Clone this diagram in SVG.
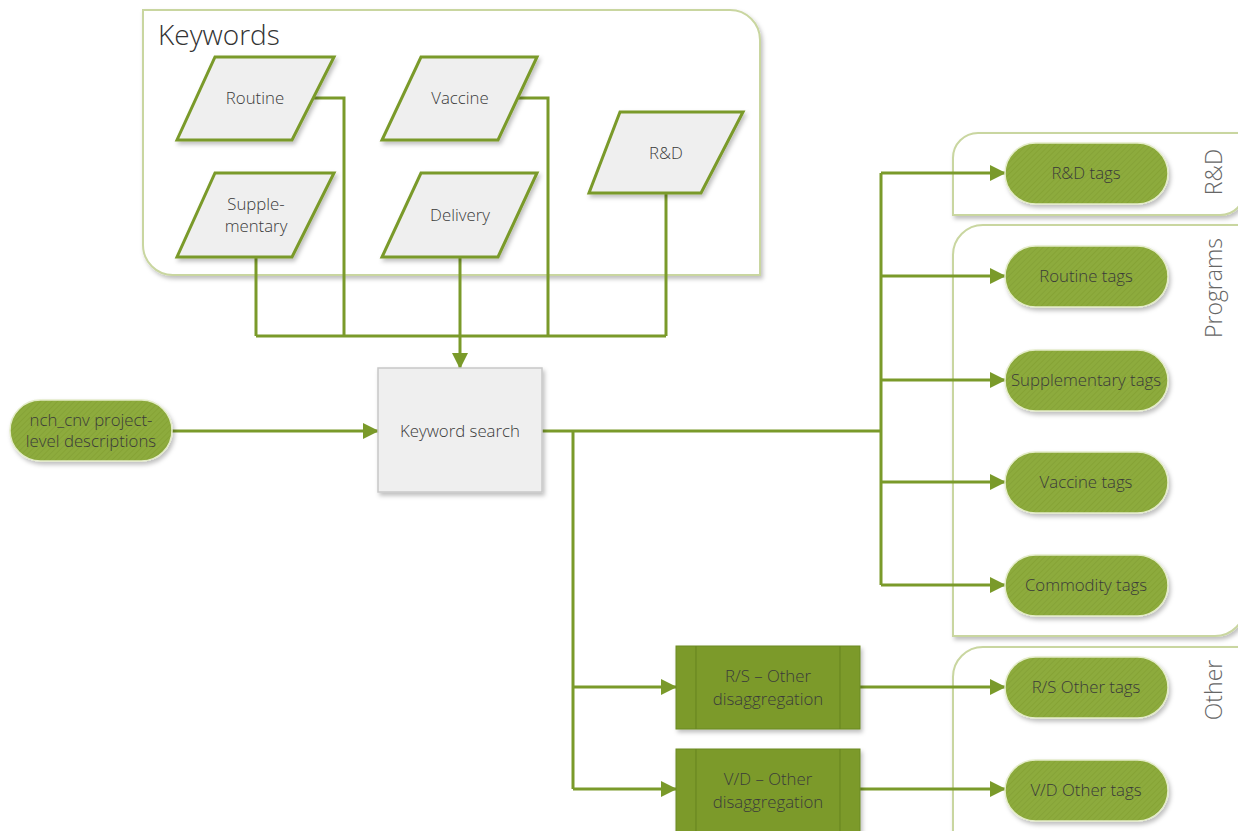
<svg xmlns="http://www.w3.org/2000/svg" width="1238" height="831" viewBox="0 0 1238 831">
<style>
text{font-family:"Open Sans","Liberation Sans",sans-serif;font-weight:300;fill:#3a3a3a;text-anchor:middle;}
.cont{fill:#fff;stroke:#c9d6a0;stroke-width:2;}
.para{fill:#efefef;stroke:#7a9a2a;stroke-width:3;}
.pill{fill:url(#hatch);stroke:#e4ecc9;stroke-width:1.5;}
.proc{fill:#7b9a2b;stroke:#6c8a22;stroke-width:1;}
.inner{stroke:#6a8820;stroke-width:1.2;}
.ln{fill:none;stroke:#7a9a2a;stroke-width:3;}
.lbl{font-size:16.8px;}
.side{font-size:23px;fill:#666;}
</style>
<defs>
<marker id="arr" markerUnits="userSpaceOnUse" markerWidth="16" markerHeight="16" refX="15" refY="8" orient="auto">
<path d="M0,0 L16,8 L0,16 z" fill="#7a9a2a"/>
</marker>
<pattern id="hatch" patternUnits="userSpaceOnUse" width="4" height="4" patternTransform="rotate(45)">
<rect width="4" height="4" fill="#8dab3d"/>
<rect width="1" height="4" fill="#86a336"/>
</pattern>
<filter id="sh" x="-10%" y="-10%" width="130%" height="140%">
<feDropShadow dx="2" dy="3" stdDeviation="2" flood-color="#000" flood-opacity="0.25"/>
</filter>
</defs>

<g id="keywords-container">
<path class="cont" d="M143,10 H730 A30,30 0 0 1 760,40 V275 H173 A30,30 0 0 1 143,245 Z" filter="url(#sh)"/>
<text x="158" y="45" style="font-size:28px;text-anchor:start;fill:#333">Keywords</text>
</g>
<g id="rd-container">
<path class="cont" d="M978,133 H1245 V190 A25,25 0 0 1 1220,215 H953 V158 A25,25 0 0 1 978,133 Z" filter="url(#sh)"/>
<text class="side" transform="translate(1222,172) rotate(-90)">R&amp;D</text>
</g>
<g id="programs-container">
<path class="cont" d="M983,225 H1245 V606 A30,30 0 0 1 1215,636 H953 V255 A30,30 0 0 1 983,225 Z" filter="url(#sh)"/>
<text class="side" transform="translate(1222,288) rotate(-90)">Programs</text>
</g>
<g id="other-container">
<path class="cont" d="M983,647 H1245 V845 H953 V677 A30,30 0 0 1 983,647 Z" filter="url(#sh)"/>
<text class="side" transform="translate(1222,690) rotate(-90)">Other</text>
</g>

<g id="connectors">
<polyline class="ln" points="313,98 344,98 344,336"/>
<polyline class="ln" points="518,98 548,98 548,336"/>
<line class="ln" x1="256" y1="257" x2="256" y2="336"/>
<line class="ln" x1="666" y1="193" x2="666" y2="336"/>
<line class="ln" x1="256" y1="336" x2="666" y2="336"/>
<line class="ln" x1="460" y1="257" x2="460" y2="368" marker-end="url(#arr)"/>
<line class="ln" x1="172" y1="431" x2="378" y2="431" marker-end="url(#arr)"/>
<line class="ln" x1="542" y1="431" x2="881" y2="431"/>
<line class="ln" x1="881" y1="173" x2="881" y2="585"/>
<line class="ln" x1="881" y1="173" x2="1005" y2="173" marker-end="url(#arr)"/>
<line class="ln" x1="881" y1="276" x2="1005" y2="276" marker-end="url(#arr)"/>
<line class="ln" x1="881" y1="380" x2="1005" y2="380" marker-end="url(#arr)"/>
<line class="ln" x1="881" y1="482" x2="1005" y2="482" marker-end="url(#arr)"/>
<line class="ln" x1="881" y1="585" x2="1005" y2="585" marker-end="url(#arr)"/>
<line class="ln" x1="573" y1="431" x2="573" y2="789"/>
<line class="ln" x1="573" y1="687" x2="676" y2="687" marker-end="url(#arr)"/>
<line class="ln" x1="573" y1="789" x2="676" y2="789" marker-end="url(#arr)"/>
<line class="ln" x1="860" y1="687" x2="1005" y2="687" marker-end="url(#arr)"/>
<line class="ln" x1="860" y1="789" x2="1005" y2="789" marker-end="url(#arr)"/>
</g>

<g id="kw-routine">
<polygon class="para" points="215,57 334,57 292,140 177,140" filter="url(#sh)"/>
<text class="lbl" x="255" y="104">Routine</text>
</g>
<g id="kw-supplementary">
<polygon class="para" points="215,173 334,173 292,257 177,257" filter="url(#sh)"/>
<text class="lbl" x="256" y="210">Supple-</text>
<text class="lbl" x="256" y="232">mentary</text>
</g>
<g id="kw-vaccine">
<polygon class="para" points="421,57 537,57 498,140 382,140" filter="url(#sh)"/>
<text class="lbl" x="460" y="104">Vaccine</text>
</g>
<g id="kw-delivery">
<polygon class="para" points="421,173 537,173 498,257 382,257" filter="url(#sh)"/>
<text class="lbl" x="460" y="221">Delivery</text>
</g>
<g id="kw-rd">
<polygon class="para" points="620,112 743,112 701,193 589,193" filter="url(#sh)"/>
<text class="lbl" x="666" y="159">R&amp;D</text>
</g>

<g id="source">
<rect class="pill" x="10" y="400" width="162" height="61" rx="30.5" filter="url(#sh)"/>
<text class="lbl" x="91" y="426">nch_cnv project-</text>
<text class="lbl" x="91" y="447">level descriptions</text>
</g>
<g id="keyword-search">
<rect x="378" y="368" width="164" height="124" fill="#efefef" stroke="#c8c8c8" stroke-width="1.5" filter="url(#sh)"/>
<text class="lbl" x="460" y="437">Keyword search</text>
</g>

<g id="rs-disagg">
<rect class="proc" x="676" y="646" width="184" height="83" filter="url(#sh)"/>
<line class="inner" x1="696" y1="646" x2="696" y2="729"/>
<line class="inner" x1="840" y1="646" x2="840" y2="729"/>
<text class="lbl" x="768" y="682">R/S – Other</text>
<text class="lbl" x="768" y="705">disaggregation</text>
</g>
<g id="vd-disagg">
<rect class="proc" x="676" y="749" width="184" height="90" filter="url(#sh)"/>
<line class="inner" x1="696" y1="749" x2="696" y2="839"/>
<line class="inner" x1="840" y1="749" x2="840" y2="839"/>
<text class="lbl" x="768" y="785">V/D – Other</text>
<text class="lbl" x="768" y="808">disaggregation</text>
</g>

<g id="tag-rd">
<rect class="pill" x="1005" y="143" width="163" height="61" rx="30.5" filter="url(#sh)"/>
<text class="lbl" x="1086" y="179">R&amp;D tags</text>
</g>
<g id="tag-routine">
<rect class="pill" x="1005" y="246" width="163" height="61" rx="30.5" filter="url(#sh)"/>
<text class="lbl" x="1086" y="282">Routine tags</text>
</g>
<g id="tag-supplementary">
<rect class="pill" x="1005" y="350" width="163" height="61" rx="30.5" filter="url(#sh)"/>
<text class="lbl" x="1086" y="386">Supplementary tags</text>
</g>
<g id="tag-vaccine">
<rect class="pill" x="1005" y="452" width="163" height="61" rx="30.5" filter="url(#sh)"/>
<text class="lbl" x="1086" y="488">Vaccine tags</text>
</g>
<g id="tag-commodity">
<rect class="pill" x="1005" y="555" width="163" height="61" rx="30.5" filter="url(#sh)"/>
<text class="lbl" x="1086" y="591">Commodity tags</text>
</g>
<g id="tag-rs-other">
<rect class="pill" x="1005" y="657" width="163" height="61" rx="30.5" filter="url(#sh)"/>
<text class="lbl" x="1086" y="693">R/S Other tags</text>
</g>
<g id="tag-vd-other">
<rect class="pill" x="1005" y="760" width="163" height="61" rx="30.5" filter="url(#sh)"/>
<text class="lbl" x="1086" y="796">V/D Other tags</text>
</g>
</svg>
